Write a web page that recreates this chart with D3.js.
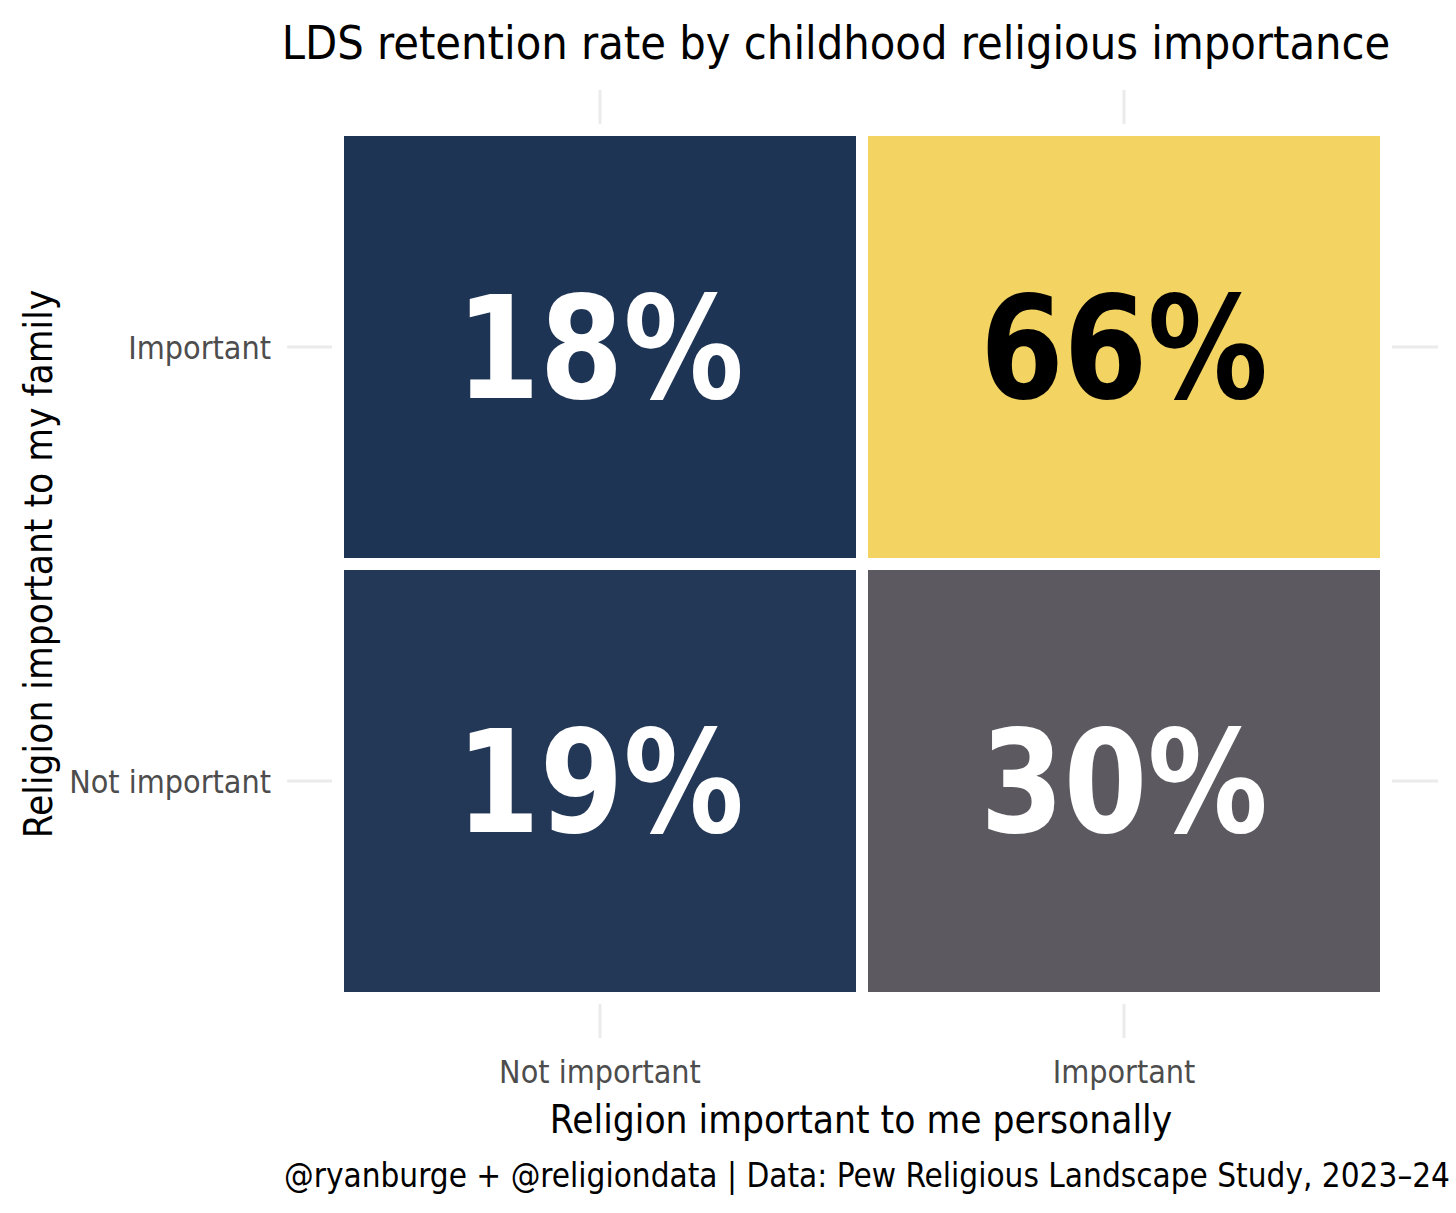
<!DOCTYPE html>
<html><head><meta charset="utf-8">
<script src="https://cdn.jsdelivr.net/npm/d3@7"></script>
<style>
body{margin:0;background:#fff;}
text{font-family:"Liberation Sans Narrow","DejaVu Sans Condensed","DejaVu Sans",sans-serif;font-stretch:condensed;}
</style></head>
<body><svg id="c" width="1456" height="1213"></svg>
<script>
const personal = ["Not important","Important"];
const family = ["Important","Not important"];
const cells = [
  {personal:"Not important", family:"Important", value:18},
  {personal:"Important", family:"Important", value:66},
  {personal:"Not important", family:"Not important", value:19},
  {personal:"Important", family:"Not important", value:30}
];
const title = "LDS retention rate by childhood religious importance";
const xTitle = "Religion important to me personally";
const yTitle = "Religion important to my family";
const caption = "@ryanburge + @religiondata | Data: Pew Religious Landscape Study, 2023\u201324";

const svg = d3.select("#c");
const panel = {l:287, r:1438, t:90, b:1038};
const x = d3.scaleBand().domain(personal).range([338,1386]);
const y = d3.scaleBand().domain(family).range([130,998]);
const color = d3.scaleLinear().domain([18,30,66]).range(["#1e3455","#5c5a60","#f3d462"]);

// grid lines
const g = svg.append("g");
g.selectAll(".vx").data(personal).join("line")
  .attr("x1",d=>x(d)+x.bandwidth()/2).attr("x2",d=>x(d)+x.bandwidth()/2)
  .attr("y1",panel.t).attr("y2",panel.b).attr("stroke","#ebebeb").attr("stroke-width",3);
g.selectAll(".hy").data(family).join("line")
  .attr("y1",d=>y(d)+y.bandwidth()/2).attr("y2",d=>y(d)+y.bandwidth()/2)
  .attr("x1",panel.l).attr("x2",panel.r).attr("stroke","#ebebeb").attr("stroke-width",3);

// tiles with white borders
svg.selectAll("rect.tile").data(cells).join("rect")
  .attr("x",d=>x(d.personal)).attr("y",d=>y(d.family))
  .attr("width",x.bandwidth()).attr("height",y.bandwidth())
  .attr("fill",d=>color(d.value))
  .attr("stroke","#fff").attr("stroke-width",12);

svg.selectAll("text.val").data(cells).join("text")
  .attr("transform",d=>`translate(${x(d.personal)+x.bandwidth()/2},${y(d.family)+y.bandwidth()/2+2}) scale(0.94,1)`)
  .attr("text-anchor","middle").attr("dominant-baseline","central")
  .attr("font-size",142).attr("font-weight","bold")
  .attr("fill",d=>d.value>50?"#000":"#fff")
  .text(d=>d.value+"%");

// axes labels
svg.selectAll("text.xt").data(personal).join("text")
  .attr("x",d=>x(d)+x.bandwidth()/2).attr("y",1083)
  .attr("text-anchor","middle").attr("font-size",32).attr("fill","#4d4d4d").text(d=>d);
svg.selectAll("text.yt").data(family).join("text")
  .attr("x",271).attr("y",d=>y(d)+y.bandwidth()/2+12)
  .attr("text-anchor","end").attr("font-size",32).attr("fill","#4d4d4d").text(d=>d);

svg.append("text").attr("x",836).attr("y",59).attr("text-anchor","middle")
  .attr("font-size",46.5).attr("fill","#000").text(title);
svg.append("text").attr("x",861).attr("y",1133).attr("text-anchor","middle")
  .attr("font-size",38.5).attr("fill","#000").text(xTitle);
svg.append("text").attr("transform","translate(52,564) rotate(-90)").attr("text-anchor","middle")
  .attr("font-size",38.5).attr("fill","#000").text(yTitle);
svg.append("text").attr("x",1450).attr("y",1187).attr("text-anchor","end")
  .attr("font-size",33).attr("fill","#000").text(caption);
</script></body></html>
